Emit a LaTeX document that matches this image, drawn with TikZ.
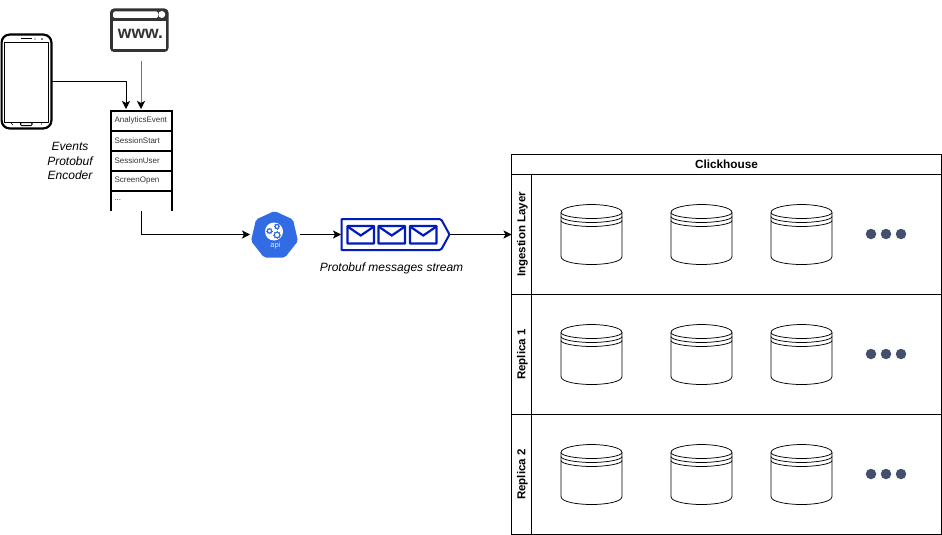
\documentclass[tikz,border=0pt]{standalone}
\usepackage{fontspec}
\setmainfont{Liberation Sans}
\usetikzlibrary{arrows.meta}
\definecolor{apiblue}{HTML}{326CE5}
\definecolor{msgblue}{HTML}{001DBC}
\definecolor{dotblue}{HTML}{434F6B}
\definecolor{icondark}{HTML}{333333}
\tikzset{
  conn/.style={draw=black,line width=0.85pt,-{Stealth[length=8pt,width=8pt,inset=2pt]}},
  row/.style={draw=black,line width=2pt,inner sep=0pt,outer sep=0pt,minimum width=61pt,minimum height=20pt,
    font=\fontsize{8}{9}\selectfont,text=black!80,align=left,anchor=north west,text width=53pt},
  lane/.style={draw=black,line width=0.9pt,inner sep=0pt,outer sep=0pt,anchor=north west},
  lanetitle/.style={font=\bfseries\fontsize{11.5}{13}\selectfont,rotate=90},
  note/.style={font=\itshape\fontsize{12}{14.5}\selectfont,align=center},
  dot/.style={circle,fill=dotblue,minimum size=10.5pt,inner sep=0pt},
  cyl/.pic={
    \draw[line width=0.75pt,fill=white]
      (-30.5,-22) -- (-30.5,22) .. controls (-30.5,27.5) and (-14,30) .. (0,30)
      .. controls (14,30) and (30.5,27.5) .. (30.5,22) -- (30.5,-22)
      .. controls (30.5,-27) and (14,-30) .. (0,-30) .. controls (-14,-30) and (-30.5,-27) .. (-30.5,-22) -- cycle;
    \draw[line width=0.75pt] (-30.5,-22) .. controls (-30.5,-18.5) and (-14,-16) .. (0,-16) .. controls (14,-16) and (30.5,-18.5) .. (30.5,-22);
    \draw[line width=0.75pt] (-30.5,-18) .. controls (-30.5,-14.5) and (-14,-12) .. (0,-12) .. controls (14,-12) and (30.5,-14.5) .. (30.5,-18);
    \draw[line width=0.75pt] (-30.5,-14) .. controls (-30.5,-10.5) and (-14,-8) .. (0,-8) .. controls (14,-8) and (30.5,-10.5) .. (30.5,-14);
  }
}
\begin{document}
\begin{tikzpicture}[x=1pt,y=-1pt]
\useasboundingbox (0,0) rectangle (942,535);
% phone
\node[inner sep=0pt,outer sep=0pt,minimum width=51pt,minimum height=95pt] (phone) at (26.5,81.5) {};
\draw[line width=2.2pt,rounded corners=8pt,fill=white] (1.6,34.6) rectangle (51.4,128.4);
\draw[line width=1pt] (4.5,43) rectangle (48,122);
\draw[line width=1pt] (21,39) -- (32,39);
\fill (35,39) circle (0.6);
\fill (42,39) circle (0.8);
\draw[line width=1pt,rounded corners=1pt] (20.5,122.5) rectangle (32,125.5);
\fill (41.5,124) circle (0.6);
\draw[line width=.6pt] (11,123) -- (13,125);
% browser
\node[inner sep=0pt,outer sep=0pt,minimum width=58pt,minimum height=43pt] (browser) at (139,30.5) {};
\fill[icondark,rounded corners=4pt] (110,8.5) rectangle (168.5,52);
\fill[white] (113,21.5) rectangle (165.5,49);
\fill[white,rounded corners=1.5pt] (113,11.5) rectangle (158,18);
\fill[white] (161.8,14.5) circle (3.5);
\node[font=\bfseries\fontsize{17.5}{18}\selectfont,text=icondark,inner sep=0pt] (www) at (140.5,34) {www.};
% list
\node[row] (r1) at (110.5,110.5) {AnalyticsEvent};
\node[row] (r2) at (110.5,130.5) {SessionStart};
\node[row] (r3) at (110.5,150.5) {SessionUser};
\node[row] (r4) at (110.5,170.5) {ScreenOpen};
\node[inner sep=0pt,outer sep=0pt,minimum width=61pt,minimum height=20pt,anchor=north west,font=\fontsize{8}{9}\selectfont,text width=53pt,align=left,text=black!80] (r5) at (110.5,190.5) {...};
\draw[line width=2pt] (r5.north west) -- (r5.south west) (r5.north east) -- (r5.south east);
\node[note] (enc) at (70,161) {Events\\Protobuf\\Encoder};
% api
\node[inner sep=0pt,outer sep=0pt,minimum size=50pt] (api) at (275,234.5) {};
\fill[apiblue,rounded corners=2pt] (274.5,211) -- (293,219.5) -- (298,241) -- (285,257.5) -- (264,257.5) -- (251,241) -- (256,219.5) -- cycle;
\fill[white] (274,231.5) circle (9);
\foreach \cx/\cy/\rr in {269.5/231/2.2,277/235/2.8,277/226.5/2}{
  \draw[apiblue,line width=1.2pt,fill=white] (\cx,\cy) circle (\rr);
  \foreach \a in {0,45,...,315}\draw[apiblue,line width=.8pt] (\cx,\cy) ++(\a:\rr) -- ++(\a:.9);
}
\node[font=\fontsize{7.5}{8}\selectfont,text=white!85!apiblue,inner sep=0pt] (apilabel) at (275.5,245.5) {api};
% stream
\node[inner sep=0pt,outer sep=0pt,minimum width=109pt,minimum height=32pt] (stream) at (395.5,234.5) {};
\draw[msgblue,line width=2pt,rounded corners=1.5pt,fill=white] (341.5,220) .. controls (341.5,219) .. (343,219) -- (441,219) -- (449.5,234.5) -- (441,250) -- (343,250) .. controls (341.5,250) .. (341.5,249) -- cycle;
\foreach \ex in {347.5,378.5,410}{
  \draw[msgblue,line width=2.2pt,rounded corners=.5pt] (\ex,226) rectangle ++(26.5,17.5);
  \draw[msgblue,line width=2.2pt] (\ex,226.5) -- ++(13.25,9) -- ++(13.25,-9);
}
\node[note] (streamlabel) at (391.5,268.5) {Protobuf messages stream};
% clickhouse
\node[lane,minimum width=430pt,minimum height=20pt,font=\bfseries\fontsize{11.8}{13}\selectfont] (ch) at (511.5,154.5) {Clickhouse};
\node[lane,minimum width=430pt,minimum height=120pt] (l1) at (511.5,174.5) {};
\node[lane,minimum width=430pt,minimum height=120pt] (l2) at (511.5,294.5) {};
\node[lane,minimum width=430pt,minimum height=120pt] (l3) at (511.5,414.5) {};
\foreach \n/\t in {l1/Ingestion Layer,l2/Replica 1,l3/Replica 2}{
  \draw[line width=0.9pt] ([xshift=20pt]\n.north west) -- ([xshift=20pt]\n.south west);
  \node[lanetitle] (\n t) at ([xshift=11pt]\n.west) {\t};
}
\foreach \yy/\k in {234.5/1,354.5/2,474.5/3}{
  \foreach \xx in {591.5,701.5,801.5}{ \pic at (\xx,\yy) {cyl}; }
  \node[dot] (d\k a) at (871,\yy-.5) {};
  \node[dot] (d\k b) at (886,\yy-.5) {};
  \node[dot] (d\k c) at (901,\yy-.5) {};
}
% connectors
\coordinate (c1) at (phone.east |- 0,81.5);
\draw[conn] (c1) -- (126,81.5) -- (126,109);
\coordinate (c2) at (141,61);
\draw[draw=black!55,line width=1pt,-{Stealth[length=8pt,width=8pt,inset=2pt,black]}] (c2) -- (141,109);
\coordinate (c3) at (141,211);
\draw[conn] (c3) -- (141,234.5) -- (api.west);
\draw[conn] (api.east) -- (stream.west);
\draw[conn] (stream.east) -- (l1.west |- stream.east);
\end{tikzpicture}
\end{document}
